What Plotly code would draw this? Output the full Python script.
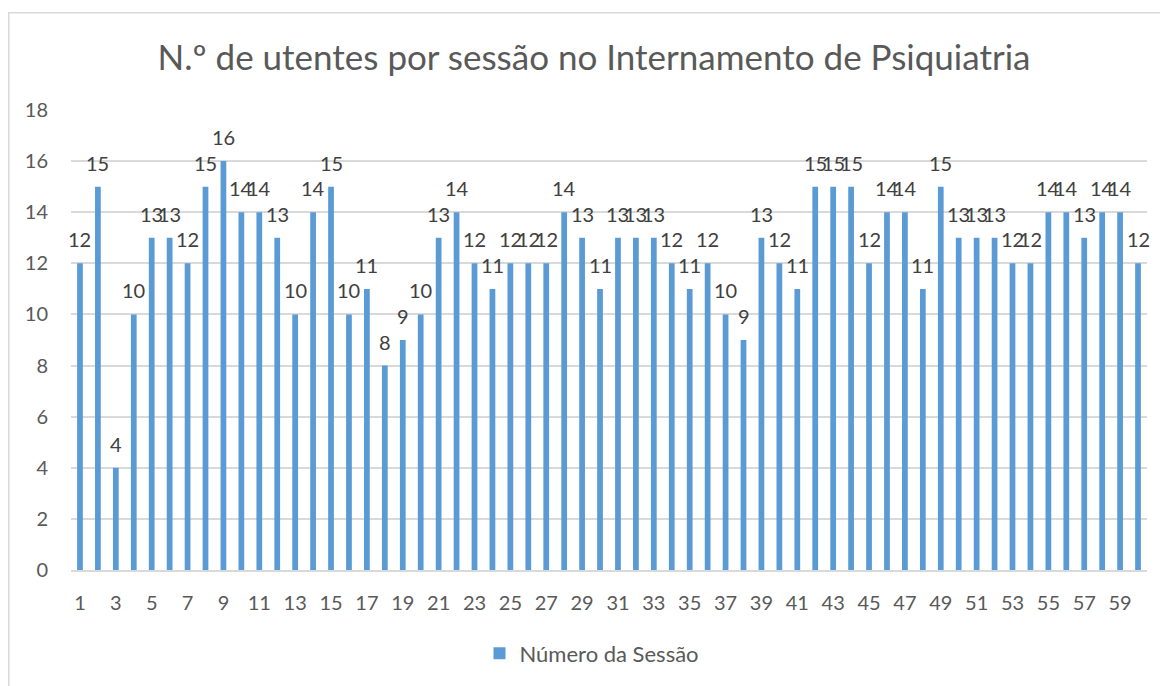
import plotly.graph_objects as go

sessions = list(range(1, 61))
utentes = [12, 15, 4, 10, 13, 13, 12, 15, 16, 14,
           14, 13, 10, 14, 15, 10, 11, 8, 9, 10,
           13, 14, 12, 11, 12, 12, 12, 14, 13, 11,
           13, 13, 13, 12, 11, 12, 10, 9, 13, 12,
           11, 15, 15, 15, 12, 14, 14, 11, 15, 13,
           13, 13, 12, 12, 14, 14, 13, 14, 14, 12]
tick_vals = list(range(1, 60, 2))
y_ticks = list(range(0, 19, 2))

title = "N.º de utentes por sessão no Internamento de Psiquiatria"
series_name = "Número da Sessão"

OFF = 8  # page body margin
W, H = 1160, 678
L, T = 71 - OFF, 110 - OFF
pw, ph = 1147 - 71, 573 - 110
R, B = W - L - pw, H - T - ph

def px_x(page_x):
    return (page_x - OFF - L) / pw

def px_y(page_y):
    return (T + ph - (page_y - OFF)) / ph

FONT = "Lato"
fig = go.Figure()
fig.add_trace(go.Bar(
    x=sessions, y=utentes, name=series_name,
    marker=dict(color="#5B9BD5", line=dict(width=0)),
    width=0.32, showlegend=True, hoverinfo="x+y",
))
for s, v in zip(sessions, utentes):
    fig.add_annotation(x=s, y=v, text=str(v), showarrow=False, xref="x", yref="y",
                       yanchor="middle", xanchor="center", yshift=24,
                       font=dict(size=20, color="#404040", family=FONT))

fig.update_layout(
    width=W, height=H,
    margin=dict(l=L, r=R, t=T, b=B, pad=0),
    paper_bgcolor="white", plot_bgcolor="white",
    font=dict(family=FONT, color="#595959"),
    title=dict(text=title, x=(594 - OFF) / W, xanchor="center", y=1 - (58 - OFF) / H,
               yanchor="middle", font=dict(size=35, color="#595959", family=FONT)),
    xaxis=dict(range=[0.5, 60.5], tickmode="array", tickvals=tick_vals,
               ticktext=[str(v) for v in tick_vals], showgrid=False,
               showline=True, linecolor="#D9D9D9", linewidth=1.5, ticks="",
               ticklabelstandoff=14,
               tickfont=dict(size=20, color="#595959"), zeroline=False),
    yaxis=dict(range=[0, 18], tickmode="array", tickvals=y_ticks, showgrid=True,
               gridcolor="#D9D9D9", gridwidth=1.5, zeroline=False, showline=False,
               ticks="", ticklabelstandoff=22,
               tickfont=dict(size=20, color="#595959")),
    legend=dict(orientation="h", x=0.5 - 17 / pw, xanchor="center", y=px_y(657),
                yanchor="middle", font=dict(size=22, color="#595959")),
)
fig.add_shape(type="rect", xref="paper", yref="paper",
              x0=px_x(8.8), x1=px_x(1180),
              y0=px_y(700), y1=px_y(12),
              line=dict(color="#D9D9D9", width=1.5), fillcolor="rgba(0,0,0,0)", layer="below")

fig.write_html("out.html")
